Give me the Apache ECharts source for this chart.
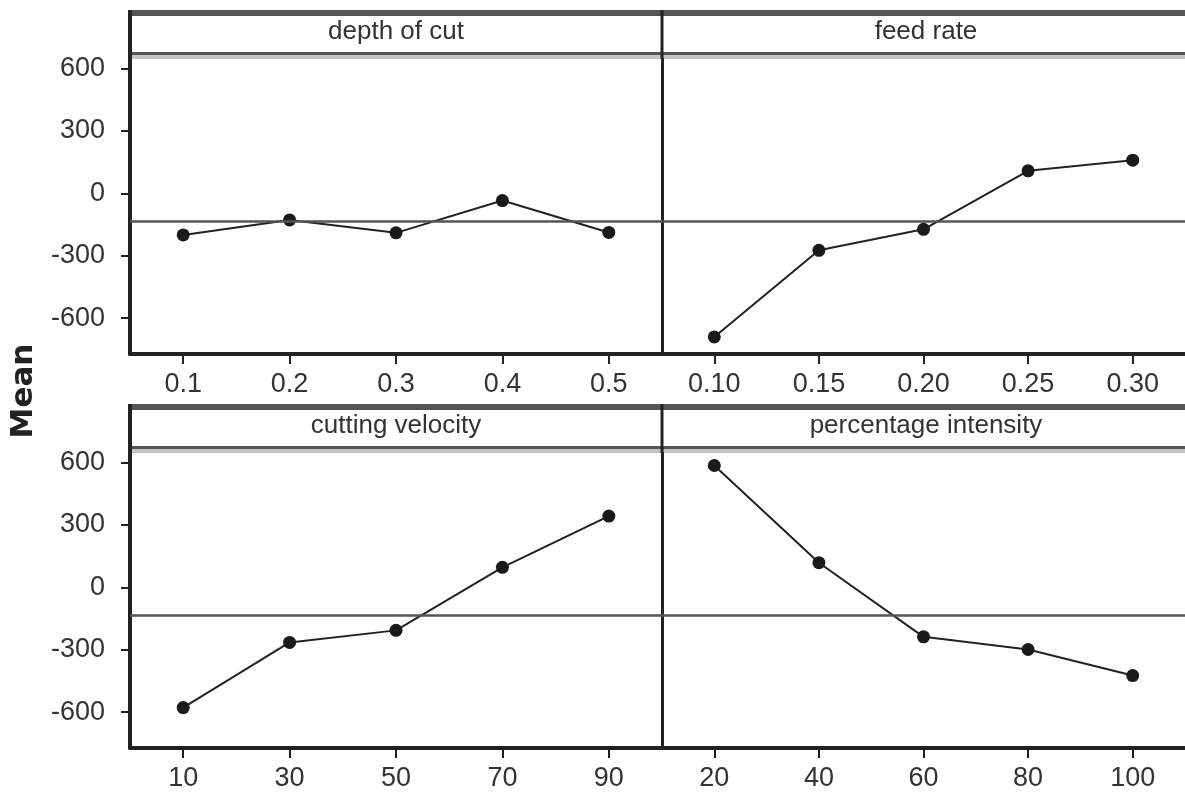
<!DOCTYPE html>
<html>
<head>
<meta charset="utf-8">
<title>Main Effects Plot for Means</title>
<script src="https://cdn.jsdelivr.net/npm/echarts@6/dist/echarts.min.js"></script>
<style>
  html, body { margin: 0; padding: 0; background: #fff; }
  #chart { width: 1185px; height: 798px; }
</style>
</head>
<body>
<div id="chart"></div>
<script>
// Factor levels and mean responses for each factor
const depthLevels = ['0.1', '0.2', '0.3', '0.4', '0.5'];
const depthMeans = [-200, -128, -190, -35, -188];

const feedLevels = ['0.10', '0.15', '0.20', '0.25', '0.30'];
const feedMeans = [-690, -274, -173, 108, 159];

const velocityLevels = ['10', '30', '50', '70', '90'];
const velocityMeans = [-578, -265, -207, 96, 342];

const intensityLevels = ['20', '40', '60', '80', '100'];
const intensityMeans = [585, 118, -238, -299, -424];

const panelTitles = ['depth of cut', 'feed rate', 'cutting velocity', 'percentage intensity'];

// Overall mean drawn as the reference line in every panel
const grandMean = -133;

// Shared y-axis range and tick labels
const yMin = -772;
const yMax = 645;
const yTicks = [-600, -300, 0, 300, 600];

// Panel layout
const colLeft = [130, 662];
const colWidth = [532, 528];
const rowTop = [59, 453];
const plotHeight = 295;
const stripHeight = 49;
const chartWidth = 1185;

const panels = [
  { levels: depthLevels, means: depthMeans },
  { levels: feedLevels, means: feedMeans },
  { levels: velocityLevels, means: velocityMeans },
  { levels: intensityLevels, means: intensityMeans }
];

const labelFont = '"Liberation Sans", Arial, sans-serif';
const axisColor = '#222';

const grids = [], xAxes = [], yAxes = [], series = [];
panels.forEach((p, i) => {
  const row = Math.floor(i / 2), col = i % 2;
  grids.push({ left: colLeft[col], top: rowTop[row], width: colWidth[col], height: plotHeight, containLabel: false });
  xAxes.push({
    type: 'category', gridIndex: i, data: p.levels, boundaryGap: true,
    axisLine: { show: true, onZero: false, lineStyle: { color: axisColor, width: 4 } },
    axisTick: { show: true, alignWithLabel: true, length: 10, lineStyle: { color: axisColor, width: 2 } },
    axisLabel: { color: '#333', fontFamily: labelFont, fontSize: 27, margin: 17 },
    splitLine: { show: false }
  });
  yAxes.push({
    type: 'value', gridIndex: i, min: yMin, max: yMax,
    axisLine: { show: true, onZero: false, lineStyle: { color: axisColor, width: col === 0 ? 4 : 3 } },
    axisTick: { show: col === 0, length: 9, lineStyle: { color: axisColor, width: 2 }, customValues: yTicks },
    axisLabel: { show: col === 0, color: '#333', fontFamily: labelFont, fontSize: 27, margin: 25, customValues: yTicks },
    splitLine: { show: false }
  });
  series.push({
    type: 'line', xAxisIndex: i, yAxisIndex: i, data: p.means,
    symbol: 'circle', symbolSize: 13,
    itemStyle: { color: '#1a1a1a' },
    lineStyle: { color: '#222', width: 2 },
    z: 3,
    markLine: {
      silent: true, symbol: 'none', label: { show: false },
      lineStyle: { color: '#555', width: 2.5, type: 'solid' },
      data: [{ yAxis: grandMean }]
    }
  });
});

// Strip headers and panel frame pieces above each plot area
const graphics = [];
rowTop.forEach((top, row) => {
  const frameTop = top - stripHeight;
  graphics.push(
    { type: 'rect', shape: { x: colLeft[0] - 2, y: frameTop, width: chartWidth - colLeft[0] + 2, height: 6 }, style: { fill: '#555' }, silent: true },
    { type: 'rect', shape: { x: colLeft[0], y: top - 7, width: chartWidth - colLeft[0], height: 3 }, style: { fill: '#555' }, silent: true },
    { type: 'rect', shape: { x: colLeft[0], y: top - 4, width: chartWidth - colLeft[0], height: 4 }, style: { fill: '#c4c4c4' }, silent: true },
    { type: 'rect', shape: { x: colLeft[0] - 2, y: frameTop, width: 4, height: stripHeight }, style: { fill: axisColor }, silent: true },
    { type: 'rect', shape: { x: colLeft[1] - 1.5, y: frameTop, width: 3, height: stripHeight }, style: { fill: axisColor }, silent: true }
  );
  [0, 1].forEach(col => {
    graphics.push({
      type: 'text', silent: true,
      x: colLeft[col] + colWidth[col] / 2, y: top - 27,
      style: {
        text: panelTitles[row * 2 + col], fill: '#333',
        font: '26px "Liberation Sans", Arial, sans-serif',
        textAlign: 'center', textVerticalAlign: 'middle'
      }
    });
  });
});
graphics.push({
  type: 'text', silent: true, x: 24, y: 391, rotation: Math.PI / 2,
  style: {
    text: 'Mean', fill: '#222',
    font: 'bold 31px "DejaVu Sans", sans-serif',
    textAlign: 'center', textVerticalAlign: 'middle'
  }
});

const chart = echarts.init(document.getElementById('chart'), null, { renderer: 'canvas' });
chart.setOption({
  animation: false,
  backgroundColor: '#fff',
  grid: grids,
  xAxis: xAxes,
  yAxis: yAxes,
  series: series,
  graphic: graphics
});
</script>
</body>
</html>
